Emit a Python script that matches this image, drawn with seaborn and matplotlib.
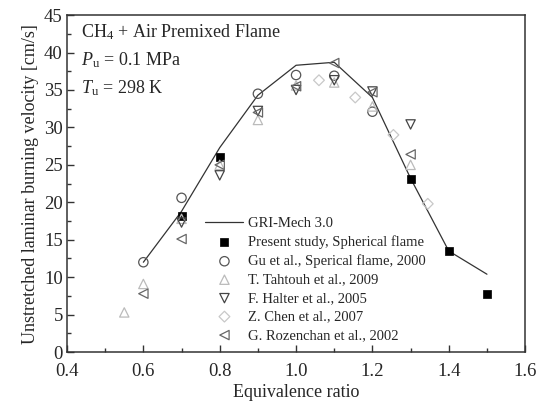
import matplotlib
matplotlib.use("Agg")
import matplotlib.pyplot as plt
import seaborn as sns
import numpy as np
import pandas as pd
from matplotlib.ticker import MultipleLocator

# ---- data ----
gri_phi = [0.6, 0.7, 0.8, 0.9, 1.0, 1.1, 1.2, 1.3, 1.4, 1.5]
gri_su = [12.0, 18.8, 27.3, 34.3, 38.3, 38.7, 34.0, 23.2, 13.5, 10.4]

present_phi = [0.7, 0.8, 1.3, 1.4, 1.5]
present_su = [18.2, 26.1, 23.1, 13.5, 7.8]

gu_phi = [0.6, 0.7, 0.9, 1.0, 1.1, 1.2]
gu_su = [12.0, 20.6, 34.5, 37.0, 36.9, 32.1]

tahtouh_phi = [0.55, 0.6, 0.7, 0.8, 0.9, 1.0, 1.1, 1.2, 1.3]
tahtouh_su = [5.3, 9.1, 17.8, 25.0, 31.0, 35.6, 36.0, 32.8, 25.0]

halter_phi = [0.7, 0.8, 0.9, 1.0, 1.1, 1.2, 1.3]
halter_su = [17.3, 23.6, 32.2, 35.0, 36.3, 34.8, 30.4]

chen_phi = [1.06, 1.155, 1.255, 1.345]
chen_su = [36.3, 34.0, 29.0, 19.8]

rozen_phi = [0.6, 0.7, 0.8, 0.9, 1.0, 1.1, 1.2, 1.3]
rozen_su = [7.8, 15.1, 25.0, 32.0, 35.5, 38.6, 34.7, 26.4]

labels = ["GRI-Mech 3.0", "Present study, Spherical flame",
          "Gu et al., Sperical flame, 2000", "T. Tahtouh et al., 2009",
          "F. Halter et al., 2005", "Z. Chen et al., 2007",
          "G. Rozenchan et al., 2002"]
xtick_labels = ["0.4", "0.6", "0.8", "1.0", "1.2", "1.4", "1.6"]

sns.set_style("ticks")
plt.rcParams['font.family'] = ['Liberation Serif', 'DejaVu Serif']
plt.rcParams['mathtext.fontset'] = 'custom'
plt.rcParams['mathtext.rm'] = 'Liberation Serif'
plt.rcParams['mathtext.it'] = 'Liberation Serif:italic'

fig = plt.figure(figsize=(5.47, 4.08), dpi=100)
ax = fig.add_axes([0.1225, 0.137, 0.8375, 0.826])

sns.lineplot(x=gri_phi, y=gri_su, ax=ax, color="#333333", lw=0.9, label=labels[0])

ms = 45
sns.scatterplot(x=present_phi, y=present_su, ax=ax, marker="s", color="black",
                edgecolor="black", s=40, label=labels[1], zorder=3)
sns.scatterplot(x=gu_phi, y=gu_su, ax=ax, marker="o", facecolor="none",
                edgecolor="#555555", linewidth=0.9, s=ms, label=labels[2], zorder=3)
sns.scatterplot(x=tahtouh_phi, y=tahtouh_su, ax=ax, marker="^", facecolor="none",
                edgecolor="#bbbbbb", linewidth=0.9, s=ms, label=labels[3], zorder=3)
sns.scatterplot(x=halter_phi, y=halter_su, ax=ax, marker="v", facecolor="none",
                edgecolor="#444444", linewidth=0.9, s=ms, label=labels[4], zorder=3)
sns.scatterplot(x=chen_phi, y=chen_su, ax=ax, marker="D", facecolor="none",
                edgecolor="#c8c8c8", linewidth=0.9, s=30, label=labels[5], zorder=3)
sns.scatterplot(x=rozen_phi, y=rozen_su, ax=ax, marker="<", facecolor="none",
                edgecolor="#666666", linewidth=0.9, s=ms, label=labels[6], zorder=3)

ax.set_xlim(0.4, 1.6)
ax.set_ylim(0, 45)
ax.xaxis.set_minor_locator(MultipleLocator(0.1))
ax.yaxis.set_major_locator(MultipleLocator(5))
ax.yaxis.set_minor_locator(MultipleLocator(2.5))
ax.set_xticks(np.arange(0.4, 1.61, 0.2))
ax.set_xticklabels(xtick_labels)
ax.tick_params(which="both", direction="in", top=False, right=False, labelsize=13.5,
               color="#333333")
ax.tick_params(which="major", length=5, width=1)
ax.tick_params(which="minor", length=3, width=1)
ax.tick_params(axis="x", which="major", pad=8)
ax.tick_params(axis="y", which="major", pad=3)
for sp in ax.spines.values():
    sp.set_visible(True)
    sp.set_color("#333333")
    sp.set_linewidth(1.1)

ax.set_xlabel("Equivalence ratio", fontsize=13, labelpad=3)
ax.set_ylabel("Unstretched laminar burning velocity [cm/s]", fontsize=13, labelpad=4)

ax.text(0.03, 0.95, r"CH$_4$ + Air Premixed Flame", transform=ax.transAxes,
        fontsize=13, va="center")
ax.text(0.03, 0.867, r"$\it{P}$$_\mathrm{u}$ = 0.1 MPa", transform=ax.transAxes,
        fontsize=13, va="center")
ax.text(0.03, 0.784, r"$\it{T}$$_\mathrm{u}$ = 298 K", transform=ax.transAxes,
        fontsize=13, va="center")

leg = ax.legend(loc="lower left", bbox_to_anchor=(0.28, 0.0), frameon=False,
                fontsize=10.5, handlelength=2.6, labelspacing=0.36, borderaxespad=0.3,
                handletextpad=0.3)

fig.savefig("out.png", dpi=100)
